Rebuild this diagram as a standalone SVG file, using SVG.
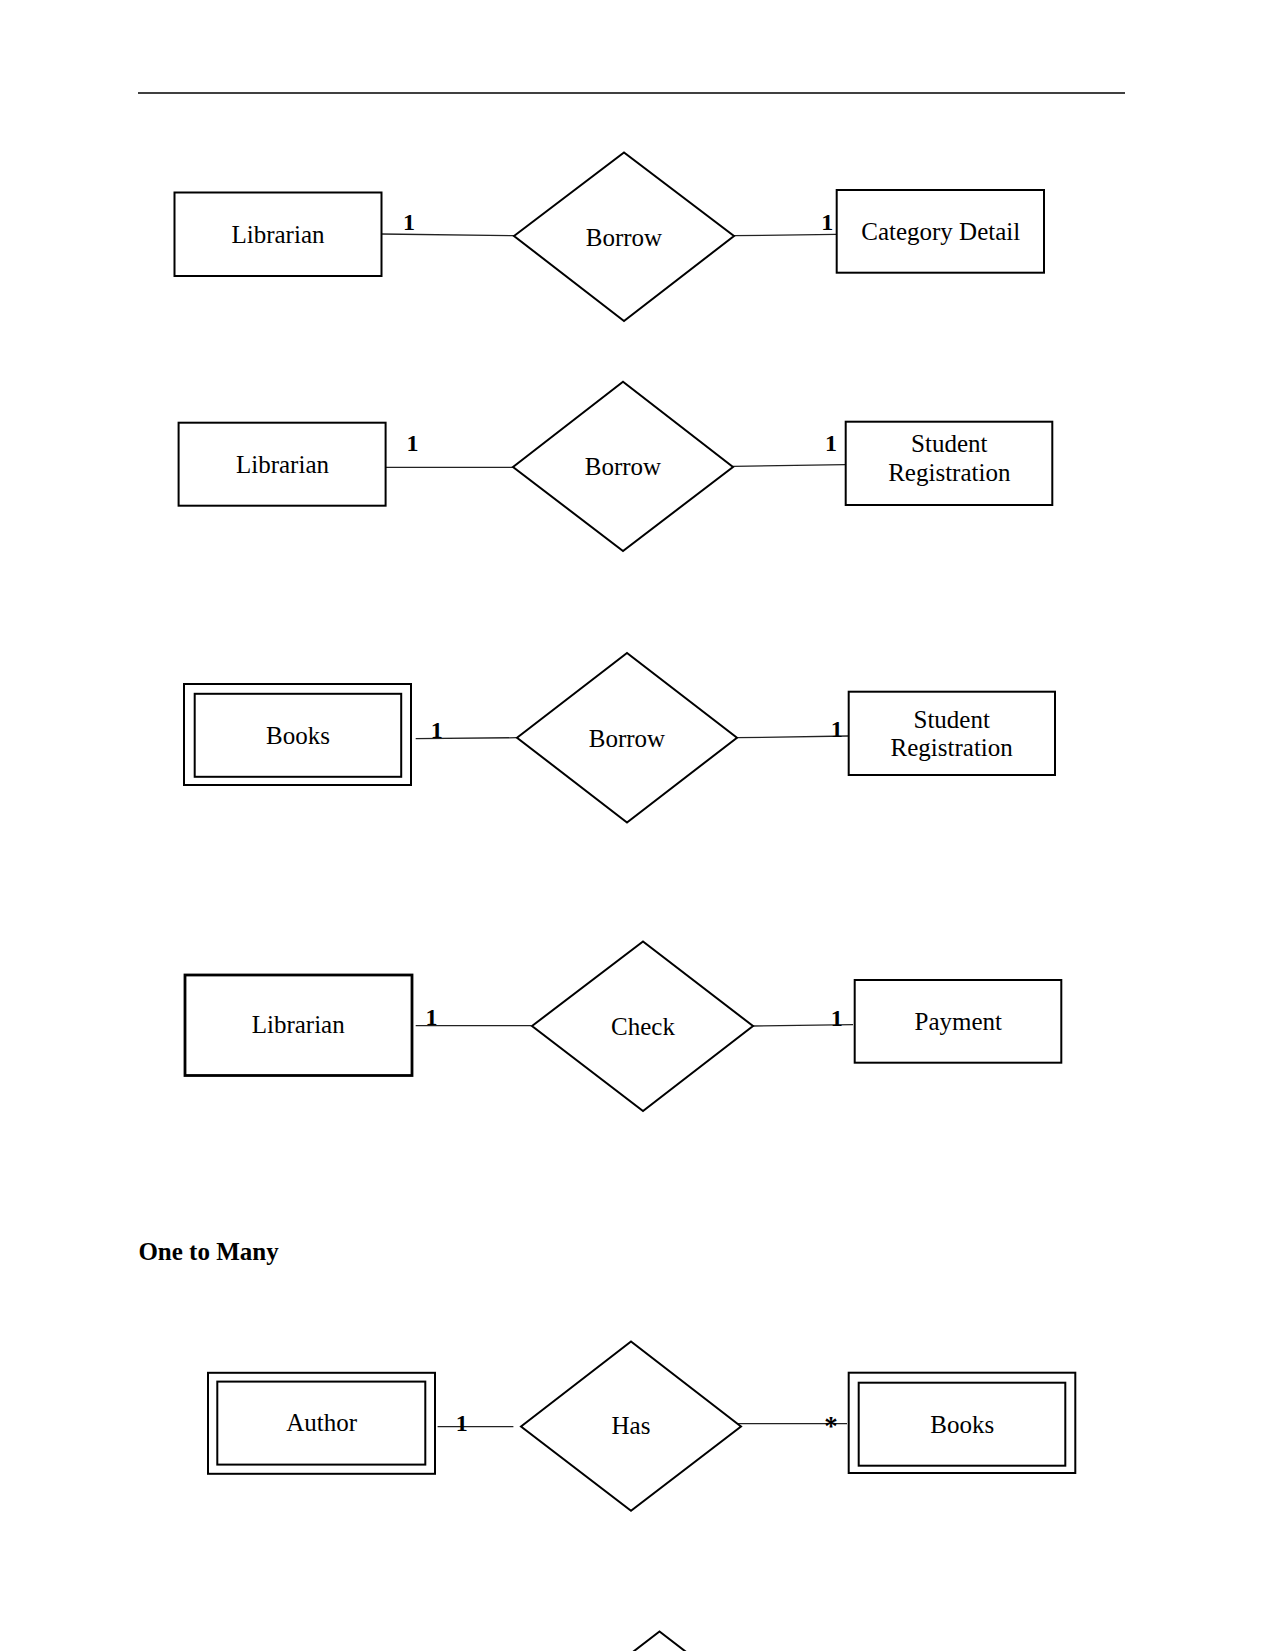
<svg xmlns="http://www.w3.org/2000/svg" width="1275" height="1651" viewBox="0 0 1275 1651">
<style>
  .ent { fill: #fff; stroke: #000; stroke-width: 2; }
  .thick { stroke-width: 2.8; }
  .rel { fill: #fff; stroke: #000; stroke-width: 2; stroke-linejoin: miter; }
  .lbl { font-family: "Liberation Serif", "Times New Roman", serif; font-size: 25px; fill: #000; text-anchor: middle; }
  .card { font-family: "Liberation Serif", "Times New Roman", serif; font-size: 24px; font-weight: bold; fill: #000; text-anchor: middle; }
  .star { font-size: 27px; }
  .conn { stroke: #222; stroke-width: 1.3; fill: none; }
  .head { font-family: "Liberation Serif", "Times New Roman", serif; font-size: 25px; font-weight: bold; fill: #000; }
</style>
<rect width="1275" height="1651" fill="#fff"/>
<line x1="138" y1="93" x2="1125" y2="93" stroke="#000" stroke-width="1.5"/>

<g id="connectors">
  <line class="conn" x1="381" y1="234" x2="514" y2="235.7"/>
  <line class="conn" x1="734" y1="235.7" x2="836" y2="234.3"/>
  <line class="conn" x1="386" y1="467.3" x2="513" y2="467.3"/>
  <line class="conn" x1="733" y1="466.3" x2="845" y2="464.7"/>
  <line class="conn" x1="415.7" y1="738.7" x2="517" y2="737.7"/>
  <line class="conn" x1="737" y1="737.7" x2="848" y2="736"/>
  <line class="conn" x1="415.7" y1="1025.7" x2="531.5" y2="1025.7"/>
  <line class="conn" x1="752.5" y1="1026" x2="853" y2="1024.7"/>
  <line class="conn" x1="437.6" y1="1426.7" x2="513.4" y2="1426.7"/>
  <line class="conn" x1="731.7" y1="1423.7" x2="847" y2="1423.7"/>
  <text class="card" x="409" y="229.5">1</text>
  <text class="card" x="827.3" y="230">1</text>
  <text class="card" x="412.5" y="451">1</text>
  <text class="card" x="831" y="451">1</text>
  <text class="card" x="436.8" y="737.7">1</text>
  <text class="card" x="836.7" y="736.7">1</text>
  <text class="card" x="431.4" y="1025">1</text>
  <text class="card" x="836.7" y="1025.7">1</text>
  <text class="card" x="461.8" y="1431">1</text>
  <text class="card star" x="831" y="1435">*</text>
</g>

<g id="librarian1">
  <rect class="ent" x="174.5" y="192.5" width="207" height="83.5"/>
  <text class="lbl" x="278" y="243">Librarian</text>
</g>
<g id="borrow1">
  <polygon class="rel" points="514,236 624,152.5 734,236 624,321"/>
  <text class="lbl" x="624" y="246">Borrow</text>
</g>
<g id="category-detail">
  <rect class="ent" x="836.7" y="190" width="207.3" height="82.7"/>
  <text class="lbl" x="940.7" y="240">Category Detail</text>
</g>

<g id="librarian2">
  <rect class="ent" x="178.6" y="422.7" width="207" height="83"/>
  <text class="lbl" x="282.5" y="472.7">Librarian</text>
</g>
<g id="borrow2">
  <polygon class="rel" points="513,467 623,381.7 733,467 623,551"/>
  <text class="lbl" x="623" y="475">Borrow</text>
</g>
<g id="student-registration1">
  <rect class="ent" x="845.7" y="421.7" width="206.6" height="83.3"/>
  <text class="lbl" x="949.3" y="451.7">Student</text>
  <text class="lbl" x="949.3" y="480.7">Registration</text>
</g>

<g id="books1">
  <rect class="ent" x="184" y="684" width="227" height="101"/>
  <rect class="ent" x="194.7" y="693.8" width="206.5" height="83"/>
  <text class="lbl" x="298" y="743.7">Books</text>
</g>
<g id="borrow3">
  <polygon class="rel" points="517,737.7 627,653 737,737.7 627,822.5"/>
  <text class="lbl" x="627" y="746.7">Borrow</text>
</g>
<g id="student-registration2">
  <rect class="ent" x="848.7" y="691.7" width="206.3" height="83.3"/>
  <text class="lbl" x="951.7" y="727.7">Student</text>
  <text class="lbl" x="951.7" y="755.7">Registration</text>
</g>

<g id="librarian3">
  <rect class="ent thick" x="185" y="975" width="227" height="100.5"/>
  <text class="lbl" x="298.2" y="1033.3">Librarian</text>
</g>
<g id="check">
  <polygon class="rel" points="532,1026 643,941.5 753,1026 643,1111"/>
  <text class="lbl" x="643" y="1035">Check</text>
</g>
<g id="payment">
  <rect class="ent" x="854.7" y="980" width="206.6" height="82.7"/>
  <text class="lbl" x="958.3" y="1030">Payment</text>
</g>

<text class="head" x="138.4" y="1260">One to Many</text>

<g id="author">
  <rect class="ent" x="208" y="1372.8" width="227" height="101"/>
  <rect class="ent" x="217.3" y="1381.6" width="208" height="83"/>
  <text class="lbl" x="321.7" y="1431">Author</text>
</g>
<g id="has">
  <polygon class="rel" points="521,1426.5 631,1341.5 741,1426.5 631,1510.8"/>
  <text class="lbl" x="631" y="1434.3">Has</text>
</g>
<g id="books2">
  <rect class="ent" x="848.7" y="1372.7" width="226.6" height="100.3"/>
  <rect class="ent" x="858.7" y="1382.7" width="206.6" height="83"/>
  <text class="lbl" x="962.3" y="1432.7">Books</text>
</g>

<g id="relationship-bottom">
  <polygon class="rel" points="549.5,1716 659.5,1631.5 769.5,1716 659.5,1800"/>
</g>
</svg>
